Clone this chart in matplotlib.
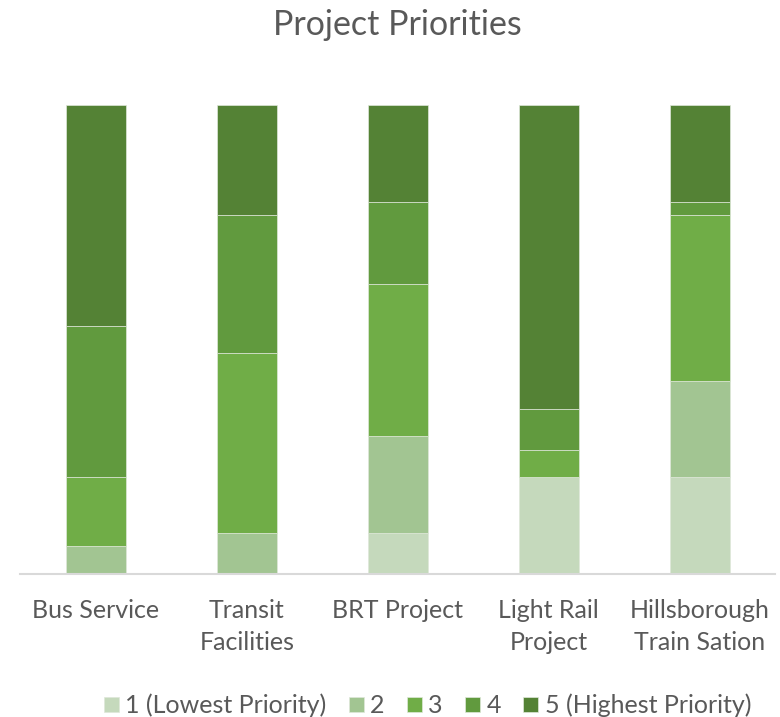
import numpy as np
import matplotlib.pyplot as plt

# categories and counts per priority level
projects = ['Bus Service', 'Transit\nFacilities', 'BRT Project', 'Light Rail\nProject', 'Hillsborough\nTrain Sation']
levels = ['1 (Lowest Priority)', '2', '3', '4', '5 (Highest Priority)']
p1 = [0, 0, 3, 7, 7]
p2 = [2, 3, 7, 0, 7]
p3 = [5, 13, 11, 2, 12]
p4 = [11, 10, 6, 3, 1]
p5 = [16, 8, 7, 22, 7]
colors = ['#C5D9BC', '#A2C592', '#70AD47', '#619A3E', '#548235']

plt.rcParams['font.family'] = ['Lato', 'DejaVu Sans']
fig = plt.figure(figsize=(7.8, 7.17), dpi=100)
ax = fig.add_axes([0.026, 0.1994, 0.968, 0.654])

x = np.arange(len(projects))
bottom = np.zeros(len(projects))
for vals, lab, col in zip([p1, p2, p3, p4, p5], levels, colors):
    ax.bar(x, vals, 0.4, bottom=bottom, color=col, label=lab,
           edgecolor='#dfe8da', linewidth=0.5)
    bottom += np.array(vals)

ax.set_xlim(-0.5, len(projects) - 0.5)
ax.set_ylim(0, bottom.max())
ax.set_yticks([])
for s in ['left', 'right', 'top']:
    ax.spines[s].set_visible(False)
ax.spines['bottom'].set_color('#d9d9d9')
ax.spines['bottom'].set_linewidth(1.5)
ax.set_xticks(x)
ax.set_xticklabels(projects, fontsize=18, color='#595959', linespacing=1.45)
ax.tick_params(axis='x', length=0, pad=18)

fig.text(0.51, 0.965, 'Project Priorities', ha='center', va='center',
         fontsize=24.5, color='#595959')
fig.legend(loc='center', bbox_to_anchor=(0.548, 0.016), ncol=5, frameon=False,
           fontsize=18, labelcolor='#595959', handlelength=0.6, handleheight=0.6,
           handletextpad=0.25, columnspacing=0.9)

plt.savefig('out.png')
